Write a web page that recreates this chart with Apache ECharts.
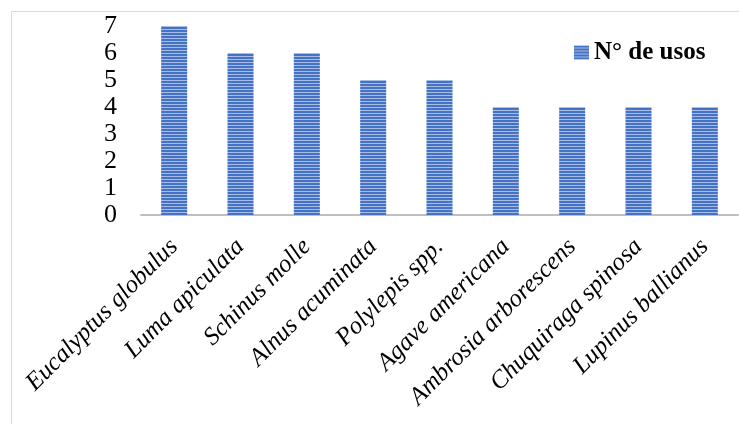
<!DOCTYPE html>
<html>
<head>
<meta charset="utf-8">
<script src="https://cdn.jsdelivr.net/npm/echarts@6/dist/echarts.min.js"></script>
<style>
  html, body { margin: 0; padding: 0; background: #ffffff; }
  #chart { width: 739px; height: 425px; }
</style>
</head>
<body>
<div id="chart"></div>
<script>
// Species and number of recorded uses
const species = [
  'Eucalyptus globulus', 'Luma apiculata', 'Schinus molle', 'Alnus acuminata',
  'Polylepis spp.', 'Agave americana', 'Ambrosia arborescens',
  'Chuquiraga spinosa', 'Lupinus ballianus'
];
const usos = [7, 6, 6, 5, 5, 4, 4, 4, 4];
const seriesName = 'N° de usos';
const yTicks = [0, 1, 2, 3, 4, 5, 6, 7];

// Horizontal striped fill for the bars
function stripePattern() {
  const c = document.createElement('canvas');
  c.width = 4; c.height = 3;
  const g = c.getContext('2d');
  g.fillStyle = '#4472C4';
  g.fillRect(0, 0, 4, 3);
  g.fillStyle = '#A8BCE6';
  g.fillRect(0, 2, 4, 1);
  return c;
}
const fill = { image: stripePattern(), repeat: 'repeat' };

const chart = echarts.init(document.getElementById('chart'), null, { renderer: 'canvas' });
chart.setOption({
  animation: false,
  backgroundColor: '#ffffff',
  graphic: [{
    type: 'polyline',
    shape: { points: [[11.5, 424], [11.5, 11.5], [739, 11.5]] },
    style: { stroke: '#d9d9d9', lineWidth: 1, fill: null }
  }],
  legend: {
    left: 569, top: 35,
    itemWidth: 15, itemHeight: 14, itemGap: 6,
    icon: 'rect',
    data: [seriesName],
    textStyle: { fontFamily: 'Liberation Serif', fontSize: 25, fontWeight: 'bold', color: '#000' }
  },
  grid: { left: 141, right: 1, top: 26, bottom: 210, containLabel: false },
  xAxis: {
    type: 'category',
    data: species,
    axisLine: { lineStyle: { color: '#bfbfbf', width: 2 } },
    axisTick: { show: false },
    axisLabel: {
      interval: 0, rotate: 45, margin: 28,
      fontFamily: 'Liberation Serif', fontStyle: 'italic', fontSize: 25, color: '#000'
    }
  },
  yAxis: {
    type: 'value',
    min: yTicks[0], max: yTicks[yTicks.length - 1], interval: 1,
    axisLine: { show: false },
    axisTick: { show: false },
    splitLine: { show: false },
    axisLabel: {
      margin: 24,
      fontFamily: 'Liberation Serif', fontSize: 26, color: '#000'
    }
  },
  series: [{
    name: seriesName,
    type: 'bar',
    data: usos,
    barWidth: 26,
    itemStyle: { color: fill }
  }]
});
</script>
</body>
</html>
